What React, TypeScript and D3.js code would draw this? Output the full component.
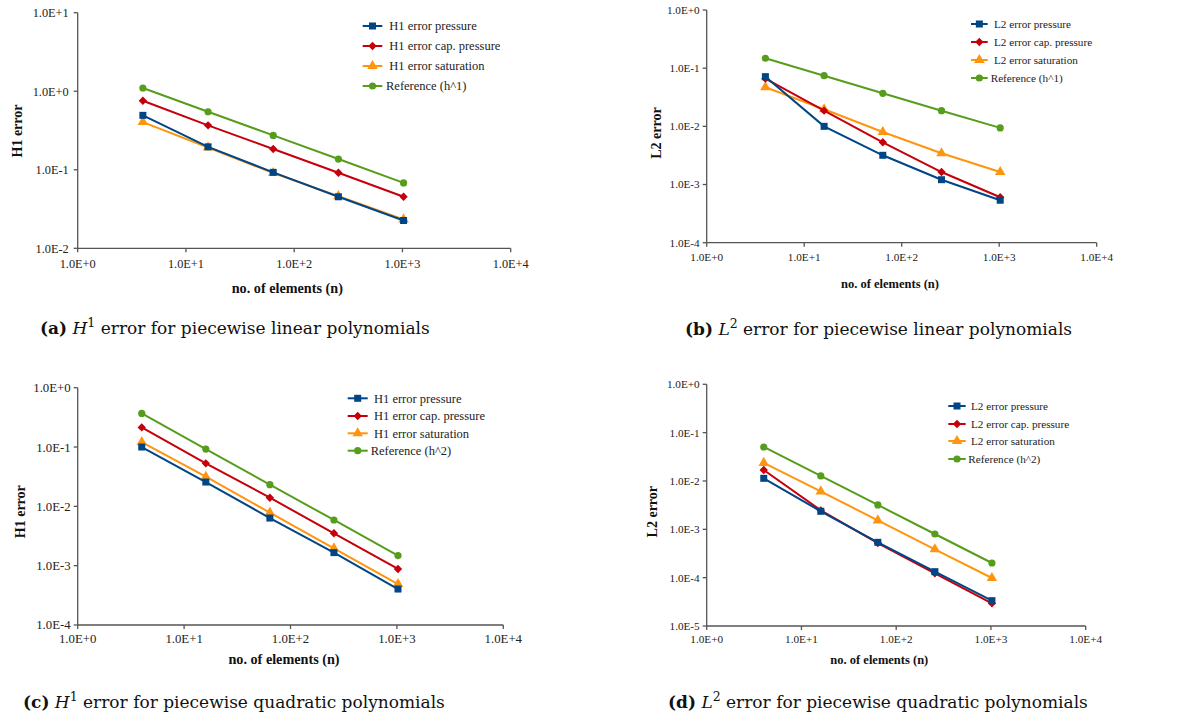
import React from "react";
import * as d3 from "d3";

// number of elements, same for every panel
const nElements = [4, 16, 64, 256, 1024];
const xTickValues = [1, 10, 100, 1000, 10000];

// (a) H1, linear
const aPressure = [0.493, 0.196, 0.0927, 0.0453, 0.0226];
const aCapPressure = [0.757, 0.368, 0.184, 0.0917, 0.0453];
const aSaturation = [0.405, 0.192, 0.0908, 0.0462, 0.0233];
const aReference = [1.1, 0.548, 0.274, 0.137, 0.068];

// (b) L2, linear
const bPressure = [0.0715, 0.01, 0.00318, 0.00121, 0.000537];
const bCapPressure = [0.066, 0.0186, 0.00532, 0.00164, 0.000605];
const bSaturation = [0.047, 0.0197, 0.008, 0.00345, 0.00164];
const bReference = [0.148, 0.0743, 0.037, 0.0186, 0.0094];

// (c) H1, quadratic
const cPressure = [0.1, 0.0257, 0.00635, 0.00166, 0.000404];
const cCapPressure = [0.214, 0.0531, 0.014, 0.00351, 0.00088];
const cSaturation = [0.121, 0.0316, 0.00782, 0.00196, 0.00049];
const cReference = [0.369, 0.0925, 0.0232, 0.00589, 0.00148];

// (d) L2, quadratic
const dPressure = [0.01135, 0.00236, 0.000538, 0.000133, 0.0000334];
const dCapPressure = [0.0169, 0.00247, 0.00052, 0.000123, 0.0000294];
const dSaturation = [0.0236, 0.0061, 0.00153, 0.000386, 0.0000984];
const dReference = [0.0505, 0.0127, 0.00319, 0.0008, 0.000201];

const labelsH1 = ["H1 error pressure", "H1 error cap. pressure", "H1 error saturation"];
const labelsL2 = ["L2 error pressure", "L2 error cap. pressure", "L2 error saturation"];

const BLUE = "#004586";
const RED = "#c5000b";
const ORANGE = "#ff950e";
const GREEN = "#579d1c";
const AXIS = "#555";
const FONT = "'Liberation Serif', 'Times New Roman', serif";
const CAP_FONT = "'DejaVu Serif', serif";

const fmtExp = (v: number) => {
  const e = Math.round(Math.log10(v));
  return "1.0E" + (e >= 0 ? "+" : "-") + Math.abs(e);
};

const Marker = ({ kind, x, y, color }: any) => {
  if (kind === "square") return <rect x={x - 3.5} y={y - 3.5} width={7} height={7} fill={color} />;
  if (kind === "diamond")
    return <path d={`M${x},${y - 4.2}L${x + 4.2},${y}L${x},${y + 4.2}L${x - 4.2},${y}Z`} fill={color} />;
  if (kind === "triangle")
    return <path transform={`translate(${x},${y})`} d={d3.symbol(d3.symbolTriangle, 48)() || ""} fill={color} />;
  return <circle cx={x} cy={y} r={3.6} fill={color} />;
};

const Panel = ({ cfg }: any) => {
  const x = d3.scaleLog().domain([1, 10000]).range([cfg.x0, cfg.x1]);
  const y = d3.scaleLog().domain(cfg.yDomain).range([cfg.yBot, cfg.yTop]);
  const yTicks = d3.range(Math.log10(cfg.yDomain[0]), Math.log10(cfg.yDomain[1]) + 1).map((e) => Math.pow(10, e));
  const line = d3
    .line<number>()
    .x((_, i) => x(nElements[i]))
    .y((d) => y(d));

  // drawing order: reference, saturation, cap. pressure, pressure
  const series = [
    { vals: cfg.ref, color: GREEN, kind: "circle" },
    { vals: cfg.sat, color: ORANGE, kind: "triangle" },
    { vals: cfg.cap, color: RED, kind: "diamond" },
    { vals: cfg.pre, color: BLUE, kind: "square" },
  ];
  const legend = [
    { label: cfg.labels[0], color: BLUE, kind: "square" },
    { label: cfg.labels[1], color: RED, kind: "diamond" },
    { label: cfg.labels[2], color: ORANGE, kind: "triangle" },
    { label: cfg.refLabel, color: GREEN, kind: "circle" },
  ];

  return (
    <g fontFamily={FONT}>
      {/* axes */}
      <line x1={cfg.x0} x2={cfg.x0} y1={cfg.yTop} y2={cfg.yBot} stroke={AXIS} strokeWidth={1.3} />
      <line x1={cfg.x0} x2={cfg.x1} y1={cfg.yBot} y2={cfg.yBot} stroke={AXIS} strokeWidth={1.3} />
      {yTicks.map((t) => (
        <g key={"y" + t}>
          <line x1={cfg.x0 - 4} x2={cfg.x0} y1={y(t)} y2={y(t)} stroke={AXIS} strokeWidth={1.3} />
          <text x={cfg.x0 - cfg.yGap} y={y(t)} dy="0.35em" textAnchor="end" fontSize={cfg.tickSize} fill="#222">
            {fmtExp(t)}
          </text>
        </g>
      ))}
      {xTickValues.map((t) => (
        <g key={"x" + t}>
          <line x1={x(t)} x2={x(t)} y1={cfg.yBot} y2={cfg.yBot + 4} stroke={AXIS} strokeWidth={1.3} />
          <text x={x(t)} y={cfg.xTickY} dy="0.35em" textAnchor="middle" fontSize={cfg.tickSize} fill="#222">
            {fmtExp(t)}
          </text>
        </g>
      ))}
      <text
        transform={`translate(${cfg.yLabel[0]},${cfg.yLabel[1]}) rotate(-90)`}
        textAnchor="middle"
        dy="0.35em"
        fontWeight="bold"
        fontSize={14}
        fill="#111"
      >
        {cfg.yTitle}
      </text>
      <text x={cfg.xLabel[0]} y={cfg.xLabel[1]} dy="0.35em" textAnchor="middle" fontWeight="bold" fontSize={cfg.xTitleSize} fill="#111">
        no. of elements (n)
      </text>

      {/* series */}
      {series.map((s, si) => (
        <g key={si}>
          <path d={line(s.vals) || ""} fill="none" stroke={s.color} strokeWidth={2} />
          {s.vals.map((v: number, i: number) => (
            <Marker key={i} kind={s.kind} x={x(nElements[i])} y={y(v)} color={s.color} />
          ))}
        </g>
      ))}

      {/* legend */}
      {legend.map((l, i) => {
        const ly = cfg.legRows[i];
        return (
          <g key={l.label}>
            <line x1={cfg.legX0} x2={cfg.legX1} y1={ly} y2={ly} stroke={l.color} strokeWidth={2} />
            <Marker kind={l.kind} x={(cfg.legX0 + cfg.legX1) / 2} y={ly} color={l.color} />
            <text x={i === 3 ? cfg.refTextX : cfg.legTextX} y={ly} dy="0.35em" fontSize={cfg.legSize} fill="#222">
              {l.label}
            </text>
          </g>
        );
      })}
    </g>
  );
};

const Caption = ({ x, y, tag, sym, sup, rest }: any) => (
  <text x={x} y={y} fontFamily={CAP_FONT} fontSize={17} fill="#111">
    <tspan fontWeight="bold">({tag})</tspan>
    <tspan> </tspan>
    <tspan fontStyle="italic">{sym}</tspan>
    <tspan dy={-7} fontSize={12.5}>
      {sup}
    </tspan>
    <tspan dy={7}> {rest}</tspan>
  </text>
);

const panels = [
  {
    x0: 77.7, x1: 510.7, yTop: 12.7, yBot: 248.3, yDomain: [0.01, 10],
    pre: aPressure, cap: aCapPressure, sat: aSaturation, ref: aReference,
    labels: labelsH1, refLabel: "Reference (h^1)", yTitle: "H1 error",
    legX0: 362.7, legX1: 382.3, legTextX: 389.3, refTextX: 386, legRows: [26, 46, 66, 86],
    tickSize: 12.3, legSize: 12.5, yGap: 9, xTickY: 263.3, yLabel: [16.7, 131], xLabel: [287.3, 288.3], xTitleSize: 14.2,
  },
  {
    x0: 706.7, x1: 1096.7, yTop: 10, yBot: 242.7, yDomain: [0.0001, 1],
    pre: bPressure, cap: bCapPressure, sat: bSaturation, ref: bReference,
    labels: labelsL2, refLabel: "Reference (h^1)", yTitle: "L2 error",
    legX0: 971, legX1: 987.7, legTextX: 994, refTextX: 990.7, legRows: [24, 42, 60, 78],
    tickSize: 11.2, legSize: 11.2, yGap: 7, xTickY: 257.3, yLabel: [656, 133], xLabel: [890, 283.3], xTitleSize: 12.5,
  },
  {
    x0: 77.7, x1: 503.3, yTop: 387.7, yBot: 625, yDomain: [0.0001, 1],
    pre: cPressure, cap: cCapPressure, sat: cSaturation, ref: cReference,
    labels: labelsH1, refLabel: "Reference (h^2)", yTitle: "H1 error",
    legX0: 347.7, legX1: 367.7, legTextX: 374, refTextX: 370.7, legRows: [398.3, 416, 433.3, 450.7],
    tickSize: 12.8, legSize: 12.5, yGap: 7, xTickY: 638.3, yLabel: [20, 511.7], xLabel: [284, 659.3], xTitleSize: 14.2,
  },
  {
    x0: 706.7, x1: 1085.7, yTop: 384.3, yBot: 626, yDomain: [0.00001, 1],
    pre: dPressure, cap: dCapPressure, sat: dSaturation, ref: dReference,
    labels: labelsL2, refLabel: "Reference (h^2)", yTitle: "L2 error",
    legX0: 948.3, legX1: 965.7, legTextX: 971, refTextX: 968.3, legRows: [406, 424, 441, 459],
    tickSize: 11.2, legSize: 11.2, yGap: 7, xTickY: 639.3, yLabel: [651.7, 511.7], xLabel: [879.3, 659.3], xTitleSize: 12.5,
  },
];

export default function App() {
  return (
    <svg width={1199} height={720} style={{ position: "absolute", left: 0, top: 0, background: "#fff" }}>
      {panels.map((p, i) => (
        <Panel key={i} cfg={p} />
      ))}
      <Caption x={40} y={334} tag="a" sym="H" sup="1" rest="error for piecewise linear polynomials" />
      <Caption x={685} y={335} tag="b" sym="L" sup="2" rest="error for piecewise linear polynomials" />
      <Caption x={23} y={708} tag="c" sym="H" sup="1" rest="error for piecewise quadratic polynomials" />
      <Caption x={668} y={708} tag="d" sym="L" sup="2" rest="error for piecewise quadratic polynomials" />
    </svg>
  );
}
